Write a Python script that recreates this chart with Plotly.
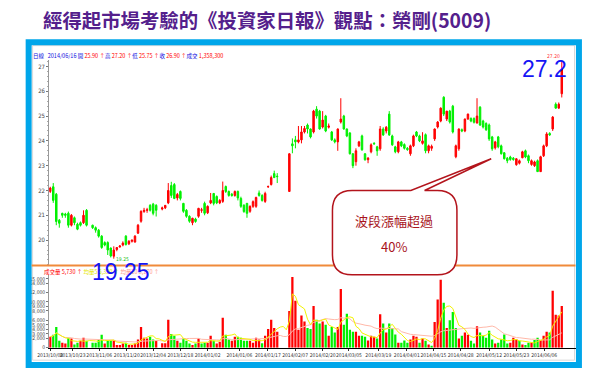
import plotly.graph_objects as go
import pandas as pd

W, H = 600, 381

# ---------------- data ----------------
opens = [21.96, 22.15, 21.85, 20.8, 21.08, 21.05, 21.08, 20.6, 20.9, 20.64, 20.7, 20.7, 21.2, None,
         20.6, 20.5, 20.4, 20.16, 19.9, 19.9, 19.68, 19.35, 19.62, 19.72, 19.8, 20.16, 19.85, 19.95,
         19.92, 20.28, 20.76, 21.15, 21.2, 21.4, 21.45, 21.4, None, 21.25, 21.3, 21.5, 22.2, 22.24,
         21.7, 21.96, 21.48, 21.2, 20.96, 20.7, 20.85, 20.96, 21.2, 21.48, 21.1, 21.5, 21.88, 21.76,
         21.5, 21.56, 22.16, 21.96, 21.85, 21.8, 21.96, 21.68, 21.4, 21.48, 21.16, 21.36, 21.36, 21.9,
         21.8, 21.56, 22.15, 22.24, 22.68, 22.58, None, None, None,
         21.96, 23.88, 24.04, 23.96, 24.04, 24.36, 24.64, 24.48, 24.36, 25.28, 25.2, 24.56, 25.0, 24.55,
         24.36, 24.04, 23.96, 24.76, 25.0, 24.48, 24.32, 23.48, 23.16, 23.8, 24.2, 23.48, 23.24, 23.56,
         23.9, 23.76, 23.68, 24.48, 24.4, 25.08, 24.2, 23.76, 23.56, 23.96, 23.85, 23.7, 23.48, 23.8,
         24.36, 24.2, 23.9, 24.25, 23.6, 23.7, 24.08, 24.56, 24.8, 25.76, 24.88, 25.2, 25.4, 23.36,
         23.68, 24.45, 24.4, 24.88, 24.9, 24.9, 24.72, 25.36, 24.8, 24.7, 24.64, 24.16, 23.72, 24.16,
         23.8, 23.52, 23.3, 23.35, 23.3, 23.04, 23.1, 23.32, 23.6, 23.4, 23.05, 23.0, 23.2, 22.76,
         23.4, 23.8, 24.3, 24.48, 25.48, 25.32, 25.9]
highs = [22.15, 22.3, 21.9, 20.85, 21.1, 21.1, 21.15, 21.05, 20.95, 20.7, 20.75, 21.2, 21.25, None,
         20.62, 20.55, 20.45, 20.2, 19.95, 19.95, 19.7, 19.75, 19.72, 19.8, 19.95, 20.2, 20.0, 20.02,
         20.2, 20.65, 21.2, 21.3, 21.3, 21.45, 21.5, 21.45, None, 21.35, 21.4, 22.3, 22.35, 22.3,
         21.9, 22.0, 21.5, 21.25, 21.0, 20.9, 20.9, 21.3, 21.3, 21.55, 21.4, 21.9, 21.9, 21.8,
         21.65, 22.36, 22.2, 22.0, 21.9, 22.0, 22.0, 21.75, 21.45, 21.5, 21.4, 21.6, 21.75, 22.0,
         21.85, 21.95, 22.2, 22.6, 22.8, 22.7, None, None, None,
         23.5, 24.1, 24.2, 24.6, 24.6, 24.6, 24.7, 24.5, 25.25, 25.4, 25.25, 25.2, 25.05, 24.7,
         24.4, 24.1, 24.5, 25.72, 25.05, 24.5, 24.35, 23.5, 23.7, 24.0, 24.25, 23.5, 23.35, 23.9,
         23.95, 23.8, 24.6, 24.55, 24.6, 25.2, 24.25, 23.8, 24.0, 24.0, 23.9, 23.75, 23.85, 24.25,
         24.4, 24.25, 24.35, 24.3, 23.85, 23.85, 24.5, 24.8, 25.35, 25.8, 25.2, 25.25, 25.45, 23.85,
         24.5, 24.5, 24.9, 25.1, 24.95, 24.95, 25.72, 25.4, 24.85, 24.75, 24.7, 24.2, 24.0, 24.2,
         23.85, 23.55, 23.35, 23.4, 23.35, 23.3, 23.25, 23.6, 23.65, 23.45, 23.25, 23.2, 23.25, 23.4,
         23.85, 24.35, 24.35, 25.0, 25.55, 25.55, 27.2]
lows = [21.9, 21.5, 20.6, 20.5, 20.9, 20.9, 20.5, 20.55, 20.6, 20.4, 20.55, 20.65, 20.55, None,
        20.45, 20.3, 20.1, 19.65, 19.75, 19.4, 19.3, 19.25, 19.55, 19.7, 19.75, 19.78, 19.8, 19.9,
        19.9, 20.25, 20.7, 21.1, 21.1, 21.15, 21.0, 20.95, None, 21.2, 21.25, 21.45, 21.7, 21.65,
        21.6, 21.6, 21.1, 20.9, 20.7, 20.6, 20.7, 20.9, 21.1, 21.0, 21.05, 21.45, 21.4, 21.45,
        21.45, 21.5, 21.9, 21.75, 21.75, 21.75, 21.6, 21.3, 21.1, 20.9, 21.1, 21.3, 21.3, 21.75,
        21.55, 21.5, 22.1, 22.2, 22.5, 22.3, None, None, None,
        21.96, 23.5, 23.7, 23.9, 23.9, 24.3, 24.3, 24.1, 24.3, 24.9, 24.45, 24.5, 24.35, 24.5,
        24.0, 23.9, 23.6, 24.7, 24.45, 24.15, 23.45, 22.9, 23.0, 23.75, 23.6, 23.2, 23.1, 23.5,
        23.85, 23.4, 23.6, 24.2, 24.3, 24.2, 23.8, 23.5, 23.5, 23.75, 23.65, 23.6, 23.4, 23.75,
        24.15, 23.95, 23.85, 23.5, 23.5, 23.6, 24.0, 24.5, 24.75, 25.0, 24.8, 24.7, 24.3, 23.3,
        23.6, 24.35, 24.35, 24.85, 24.75, 24.7, 24.7, 24.6, 24.5, 24.4, 24.0, 23.6, 23.65, 23.7,
        23.45, 23.25, 23.1, 23.2, 23.2, 23.0, 23.05, 23.3, 23.3, 23.1, 23.0, 22.95, 22.75, 22.75,
        23.35, 23.75, 24.2, 24.4, 25.3, 25.3, 25.75]
closes = [22.1, 21.6, 20.75, 20.68, 21.0, 21.0, 20.6, 21.0, 20.7, 20.44, 20.6, 21.0, 20.6, None,
          20.5, 20.4, 20.16, 19.7, 19.8, 19.6, 19.36, 19.6, 19.7, 19.76, 19.88, 19.82, 19.95, 20.0,
          20.16, 20.6, 21.16, 21.2, 21.22, 21.2, 21.08, 21.2, None, 21.3, 21.4, 22.0, 21.8, 21.68,
          21.84, 21.68, 21.16, 20.96, 20.76, 20.88, 20.75, 21.28, 21.22, 21.08, 21.36, 21.6, 21.48, 21.5,
          21.6, 22.0, 21.96, 21.8, 21.8, 21.96, 21.7, 21.36, 21.15, 21.08, 21.36, 21.55, 21.72, 21.8,
          21.6, 21.88, 22.16, 22.52, 22.52, 22.56, None, None, None,
          23.48, 23.8, 23.96, 24.04, 24.36, 24.5, 24.48, 24.16, 25.2, 25.0, 24.48, 24.84, 24.4, 24.6,
          24.04, 23.96, 24.48, 24.88, 24.48, 24.2, 23.48, 23.0, 23.6, 23.96, 23.64, 23.24, 23.3, 23.84,
          23.88, 23.6, 24.48, 24.24, 24.55, 24.24, 23.84, 23.56, 23.96, 23.8, 23.7, 23.65, 23.8, 24.2,
          24.2, 24.0, 24.0, 23.6, 23.8, 23.78, 24.48, 24.76, 25.32, 25.08, 25.2, 24.76, 24.36, 23.8,
          24.48, 24.4, 24.88, 25.08, 24.8, 24.75, 25.0, 24.64, 24.56, 24.45, 24.08, 23.68, 23.96, 23.76,
          23.48, 23.28, 23.2, 23.25, 23.25, 23.28, 23.2, 23.56, 23.35, 23.2, 23.2, 23.15, 22.76, 23.36,
          23.8, 24.28, 24.24, 24.96, 25.32, 25.48, 26.9]
volumes = [2400, 2800, 4500, 1500, 1100, 900, 2200, 2000, 700, 1100, 1500, 2200, 1500, None,
           1100, 1100, 1800, 2800, 900, 1500, 1600, 1600, 600, 600, 900, 1100, 600, 600,
           900, 1800, 4500, 2200, 2000, 2400, 1800, 1500, None, 1000, 1000, 6100, 3000, 2600,
           1500, 1100, 2000, 1500, 900, 600, 900, 2000, 900, 1100, 1100, 2600, 1500, 900,
           1300, 6500, 2800, 1800, 1500, 2400, 2400, 2200, 1500, 1500, 1500, 1100, 2200, 1800,
           1000, 2600, 4100, 6100, 4300, 3500, None, None, None,
           8000, 15400, 10200, 3900, 7000, 5700, 4300, 4100, 9100, 6100, 5300, 5700, 5000, 2600,
           4500, 3300, 4500, 12800, 5000, 7400, 3900, 3500, 3500, 2600, 2600, 2400, 1600, 2600,
           2400, 2000, 7300, 5300, 3300, 5300, 4300, 2900, 1100, 1100, 1600, 1100, 1800, 2600,
           2400, 1100, 2000, 1500, 700, 300, 5600, 10500, 14800, 9800, 4300, 6000, 7800, 4300,
           2000, 2600, 3300, 2800, 1500, 900, 4700, 3300, 2600, 2200, 3700, 1800, 900, 1100,
           1800, 2900, 900, 1100, 2200, 1800, 1500, 700, 600, 1100, 1100, 1700, 2200, 1700,
           2600, 3500, 3300, 12400, 7200, 7000, 9100]

date_labels = ["2013/10/08", "2013/10/23", "2013/11/06", "2013/11/20", "2013/12/04", "2013/12/18",
               "2014/01/02", "2014/01/06", "2014/01/17", "2014/02/07", "2014/02/20", "2014/03/05",
               "2014/03/19", "2014/04/01", "2014/04/15", "2014/04/28", "2014/05/12", "2014/05/23",
               "2014/06/06"]
date_label_idx = [0, 7.4, 16.2, 25.3, 34, 43, 52, 62.5, 71.9, 80.9, 90, 98.7, 108.4, 117.8,
                  126.6, 135.6, 145, 154, 163.2]
price_ticks = [20, 21, 22, 23, 24, 25, 26, 27]
vol_ticks = [0, 2000, 3000, 4000, 5000, 6000, 8000, 9000, 10000, 12000, 14000, 15000]

# ---------------- helpers ----------------
def px(x):
    return x / W

def py(y):
    return 1 - y / H

n = len(closes)
idx = list(range(n))

RED = "#FF0000"
GREEN = "#00F000"

vol_colors = []
prev = None
for c in closes:
    if c is None:
        vol_colors.append(RED)
        continue
    if prev is None or c >= prev:
        vol_colors.append(RED)
    else:
        vol_colors.append(GREEN)
    prev = c

vs = pd.Series(volumes, dtype="float")
ma5 = vs.rolling(5, min_periods=1).mean()
ma20 = vs.rolling(20, min_periods=1).mean()

x_first_px, x_last_px = 39, 561
step = (x_last_px - x_first_px) / (n - 1)
x_lo = (38 - x_first_px) / step
x_hi = (575 - x_first_px) / step

SMALL = "Liberation Sans Narrow, DejaVu Sans Condensed, Liberation Sans, sans-serif"
BIG = "Liberation Sans, Arial, sans-serif"

fig = go.Figure()

fig.add_trace(go.Candlestick(
    x=idx, open=opens, high=highs, low=lows, close=closes,
    increasing=dict(line=dict(color=RED, width=1), fillcolor=RED),
    decreasing=dict(line=dict(color=GREEN, width=1), fillcolor=GREEN),
    whiskerwidth=0, xaxis="x", yaxis="y", showlegend=False, hoverinfo="skip"))

fig.add_trace(go.Bar(x=idx, y=volumes, marker=dict(color=vol_colors, line=dict(width=0)),
                     width=0.75, xaxis="x2", yaxis="y2", showlegend=False, hoverinfo="skip"))
fig.add_trace(go.Scatter(x=idx, y=ma20, mode="lines", line=dict(color="#FFB8A8", width=1),
                         xaxis="x2", yaxis="y2", showlegend=False, hoverinfo="skip"))
fig.add_trace(go.Scatter(x=idx, y=ma5, mode="lines", line=dict(color="#F2F200", width=1),
                         xaxis="x2", yaxis="y2", showlegend=False, hoverinfo="skip"))

price_lo = 19.0
price_hi = 20 + (242 - 60) / 25
vol_hi = (350.5 - 277) / (69.5 / 15000)

fig.update_layout(
    width=W, height=H, margin=dict(l=0, r=0, t=0, b=0),
    paper_bgcolor="white", plot_bgcolor="white",
    xaxis=dict(domain=[px(38), px(575)], range=[x_lo, x_hi], showticklabels=False,
               showgrid=False, zeroline=False, showline=False, rangeslider=dict(visible=False),
               anchor="y"),
    yaxis=dict(domain=[py(267), py(60)], range=[price_lo, price_hi], tickvals=price_ticks,
               ticks="outside", ticklen=2, tickcolor="#777",
               tickfont=dict(size=6, color="#444", family=SMALL),
               showgrid=False, zeroline=False, showline=True, linecolor="#999", linewidth=1,
               minor=dict(ticks="outside", ticklen=1, tickcolor="#aaa", dtick=0.2),
               anchor="x"),
    xaxis2=dict(domain=[px(38), px(575)], range=[x_lo, x_hi], tickvals=date_label_idx,
                ticktext=date_labels, tickfont=dict(size=5, color="#333", family=SMALL),
                ticks="outside", ticklen=2, tickcolor="#333", showgrid=False, zeroline=False,
                showline=True, linecolor="#000", linewidth=1, anchor="y2", tickangle=0),
    yaxis2=dict(domain=[py(350.5), py(277)], range=[0, vol_hi], tickvals=vol_ticks,
                ticktext=[f"{v:,}" for v in vol_ticks], ticks="outside", ticklen=2,
                tickcolor="#777", tickfont=dict(size=5, color="#444", family=SMALL),
                showgrid=False, zeroline=False, showline=True, linecolor="#999", linewidth=1,
                anchor="x2"),
    font=dict(family="Noto Sans CJK TC, Liberation Sans, sans-serif"),
)

shapes = []
# blue frame
shapes.append(dict(type="rect", xref="paper", yref="paper", x0=px(17), x1=px(578.5),
                   y0=py(368), y1=py(42.5), line=dict(color="#00A6EA", width=6),
                   fillcolor="rgba(0,0,0,0)", layer="above"))
# inner thin window border
shapes.append(dict(type="rect", xref="paper", yref="paper", x0=px(21), x1=px(574),
                   y0=py(363), y1=py(46), line=dict(color="#D8D8D8", width=1),
                   fillcolor="rgba(0,0,0,0)", layer="below"))
# orange separator
shapes.append(dict(type="line", xref="paper", yref="paper", x0=px(20), x1=px(575),
                   y0=py(267.5), y1=py(267.5), line=dict(color="#F08A3A", width=2), layer="above"))

# callout bubble
bx0, by0, bx1, by1, r = 327, 192, 454, 277, 20
tip = (489, 160)
tb0, tb1 = 407, 421

def P(x, y):
    return f"{px(x):.5f},{py(y):.5f}"

path = (f"M {P(bx0 + r, by0)} L {P(tb0, by0)} L {P(*tip)} L {P(tb1, by0)} L {P(bx1 - r, by0)} "
        f"Q {P(bx1, by0)} {P(bx1, by0 + r)} L {P(bx1, by1 - r)} Q {P(bx1, by1)} {P(bx1 - r, by1)} "
        f"L {P(bx0 + r, by1)} Q {P(bx0, by1)} {P(bx0, by1 - r)} L {P(bx0, by0 + r)} "
        f"Q {P(bx0, by0)} {P(bx0 + r, by0)} Z")
shapes.append(dict(type="path", xref="paper", yref="paper", path=path, fillcolor="white",
                   line=dict(color="#B3141C", width=1.5), layer="above"))
fig.update_layout(shapes=shapes)

ann = []

def A(x, y, text, size, color, xanchor="center", family=None, bold=False):
    t = f"<b>{text}</b>" if bold else text
    d = dict(x=px(x), y=py(y), xref="paper", yref="paper", text=t, showarrow=False,
             xanchor=xanchor, yanchor="middle", font=dict(size=size, color=color))
    if family:
        d["font"]["family"] = family
    ann.append(d)

A(260, 20, "經得起市場考驗的《投資家日報》觀點：榮剛(5009)", 19.4, "#54208C",
  family="Noto Sans CJK TC", bold=True)

hdr = ("<span style='color:#1010E0'>日線</span>&nbsp;&nbsp;&nbsp;"
       "<span style='color:#1010E0'>2014/06/16 開</span> <span style='color:#FF0000'>25.90 ↑</span>"
       "<span style='color:#1010E0'>高</span> <span style='color:#FF0000'>27.20 ↑</span>"
       "<span style='color:#1010E0'>低</span> <span style='color:#FF0000'>25.75 ↑</span>"
       "<span style='color:#1010E0'>收</span> <span style='color:#FF0000'>26.90 ↑</span>"
       "<span style='color:#1010E0'>成交</span> <span style='color:#FF0000'>1,358,300</span>")
A(19, 56, hdr, 5.5, "#1010E0", xanchor="left")

vhdr = ("<span style='color:#FF0000'>成交量 5,730 ↑</span>&nbsp;"
        "<span style='color:#E6E600'>均量5 5,330 ↑</span>&nbsp;"
        "<span style='color:#FF9A8A'>均量20 3,170 ↑</span>")
A(31, 274, vhdr, 5.5, "#FF0000", xanchor="left")

A(543, 70, "27.2", 23, "#1515F5", family=BIG)
A(111, 274, "19.25", 23, "#1515F5", family=BIG)
A(553, 56, "27.20", 5, "#FF3030", family=SMALL)
A(113, 261, "19.25", 5, "#20C020", family=SMALL)

A(390, 222, "波段漲幅超過", 13, "#A8141C", family="Noto Sans CJK TC")
A(390, 248, "40%", 13, "#A8141C", family="Noto Sans CJK TC")

fig.update_layout(annotations=ann)

fig.write_html("out.html")
